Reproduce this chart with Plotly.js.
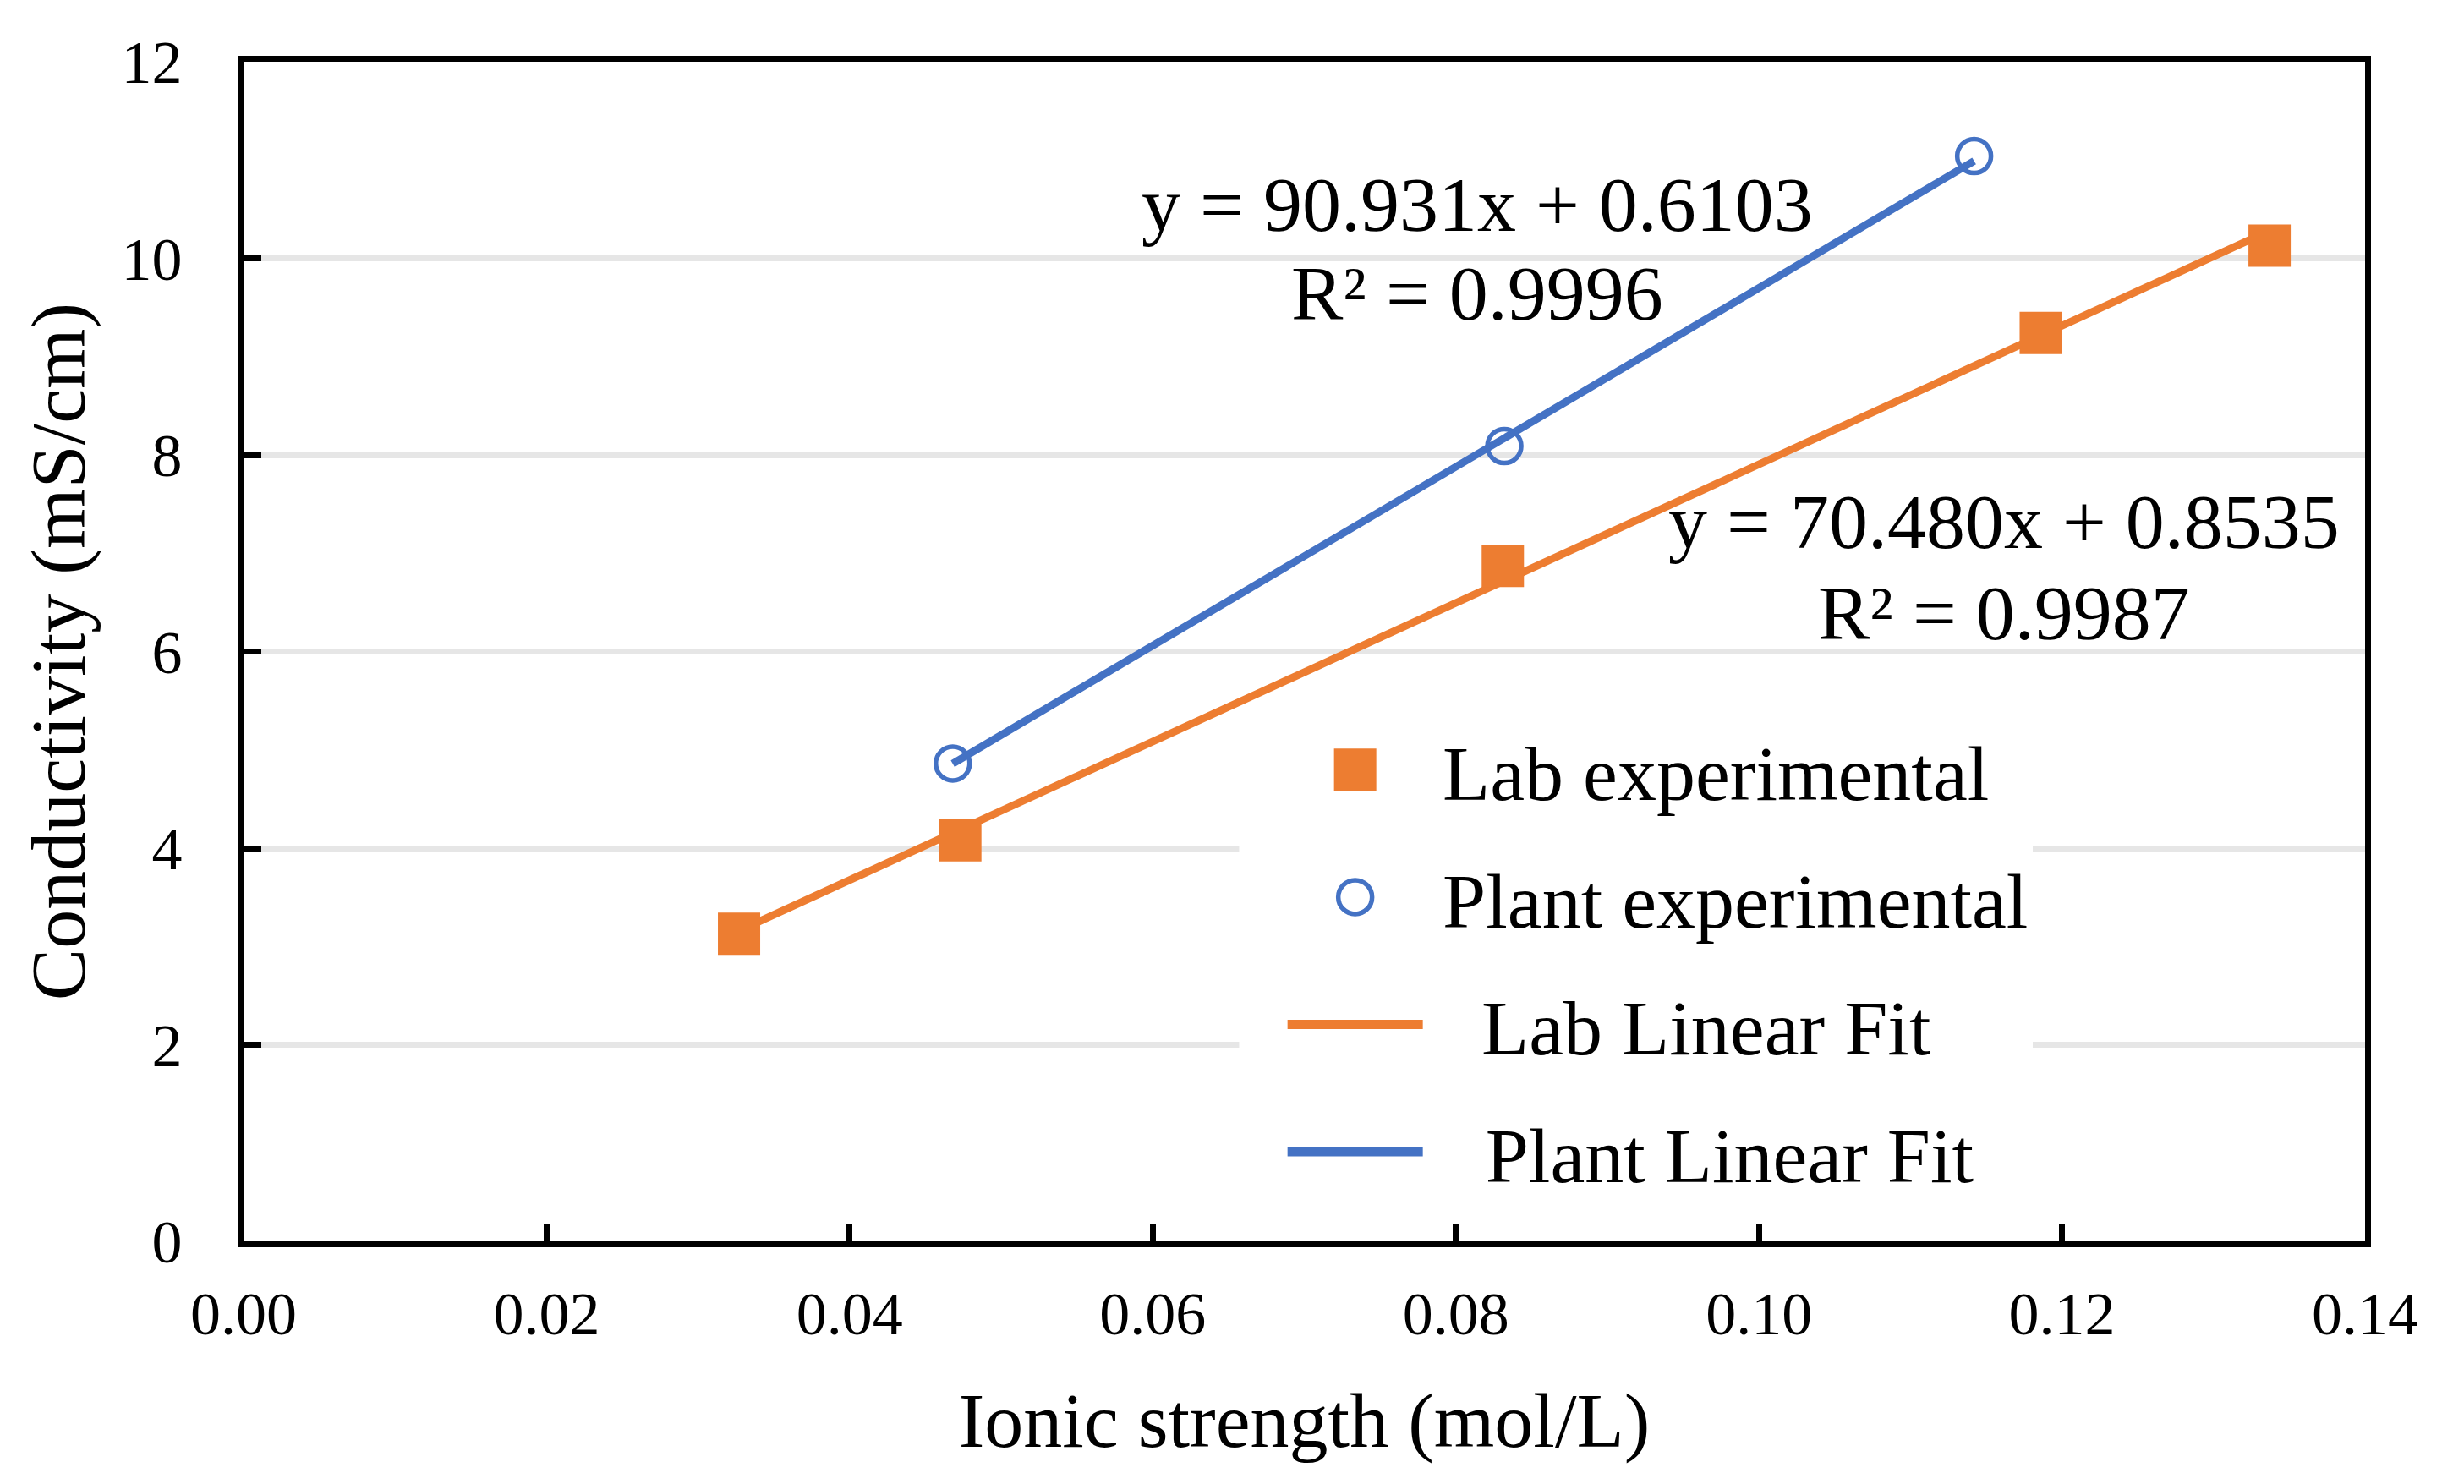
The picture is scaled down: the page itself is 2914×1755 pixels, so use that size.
<!DOCTYPE html>
<html>
<head>
<meta charset="utf-8">
<script src="https://cdn.plot.ly/plotly-3.0.1.min.js"></script>
<style>
  html, body { margin: 0; padding: 0; background: #fff; }
  #chart { width: 2914px; height: 1755px; }
</style>
</head>
<body>
<div id="chart"></div>
<script>
const labX = [0.0327, 0.0473, 0.0831, 0.1186, 0.1337];
const labY = [3.13, 4.08, 6.87, 9.24, 10.13];
const plantX = [0.0468, 0.0832, 0.1142];
const plantY = [4.86, 8.09, 11.04];

// Ends of the two fitted lines
const labFitX = [0.0327, 0.1337];
const labFitY = [3.16, 10.28];
const plantFitX = [0.0468, 0.1142];
const plantFitY = [4.86, 10.99];

// Fit equations shown on the chart
const plantEquation = ['y = 90.931x + 0.6103', 'R\u00b2 = 0.9996'];
const labEquation = ['y = 70.480x + 0.8535', 'R\u00b2 = 0.9987'];

const orange = '#ED7D31';
const blue = '#4472C4';
const font = 'Liberation Serif, Times New Roman, serif';

const labFit = {
  x: labFitX,
  y: labFitY,
  mode: 'lines',
  name: '\u00a0\u00a0\u2009Lab Linear Fit',
  line: { color: orange, width: 9 },
  legendrank: 3,
  legendgroup: 'c',
};

const plantFit = {
  x: plantFitX,
  y: plantFitY,
  mode: 'lines',
  name: '\u00a0\u00a0\u00a0Plant Linear Fit',
  line: { color: blue, width: 9 },
  legendrank: 4,
  legendgroup: 'd',
};

const labPoints = {
  x: labX,
  y: labY,
  mode: 'markers',
  name: '\u2009Lab experimental',
  marker: { symbol: 'square', size: 50, color: orange },
  legendrank: 1,
  legendgroup: 'a',
};

const plantPoints = {
  x: plantX,
  y: plantY,
  mode: 'markers',
  name: '\u2009Plant experimental',
  marker: { symbol: 'circle-open', size: 40, color: blue, line: { width: 5.5, color: blue } },
  legendrank: 2,
  legendgroup: 'b',
};

const data = [labFit, plantFit, labPoints, plantPoints];

const axisCommon = {
  showline: true,
  mirror: true,
  linecolor: '#000',
  linewidth: 7,
  ticks: 'inside',
  tickcolor: '#000',
  tickwidth: 7,
  ticklen: 21,
  zeroline: false,
  tickfont: { family: font, size: 72, color: '#000' },
};

const textFont = { family: font, size: 92, color: '#000' };

// One annotation per text line, so the line spacing follows the picture
function equationNote(text, x, y) {
  return { x, y, xref: 'x', yref: 'y', text, showarrow: false, font: textFont };
}

const layout = {
  width: 2914,
  height: 1755,
  margin: { l: 288, r: 117, t: 73, b: 287 },
  paper_bgcolor: '#fff',
  plot_bgcolor: '#fff',
  showlegend: true,
  xaxis: {
    ...axisCommon,
    range: [0, 0.14],
    dtick: 0.02,
    tickformat: '.2f',
    showgrid: false,
    ticklabelstandoff: 17,
    title: {
      text: 'Ionic strength (mol/L)',
      font: textFont,
      standoff: 56,
    },
  },
  yaxis: {
    ...axisCommon,
    range: [0, 12],
    dtick: 2,
    showgrid: true,
    gridcolor: '#E6E6E6',
    gridwidth: 7,
    ticklabelstandoff: 51,
    title: {
      text: 'Conductivity (mS/cm)',
      font: textFont,
      standoff: 15,
    },
  },
  legend: {
    x: 0.4901,
    y: 0.4473,
    xanchor: 'left',
    yanchor: 'top',
    bgcolor: '#fff',
    borderwidth: 0,
    itemwidth: 160,
    tracegroupgap: 28,
    font: textFont,
  },
  // white strip that extends the legend's background to the left
  shapes: [
    {
      type: 'rect',
      xref: 'x',
      yref: 'y',
      x0: 0.0657,
      x1: 0.0690,
      y0: 0.08,
      y1: 5.3,
      fillcolor: '#fff',
      line: { width: 0 },
      layer: 'between',
    },
  ],
  annotations: [
    equationNote(plantEquation[0], 0.0814, 10.55),
    equationNote(plantEquation[1], 0.0814, 9.64),
    equationNote(labEquation[0], 0.1162, 7.32),
    equationNote(labEquation[1], 0.1162, 6.39),
  ],
};

const config = { staticPlot: true, responsive: false };

// Legend symbols are capped in size by Plotly, so enlarge them to match the plot
function enlargeLegendSymbols(gd) {
  gd.querySelectorAll('.legend .traces').forEach((item) => {
    const trace = item.__data__[0].trace;
    item.querySelectorAll('.scatterpts').forEach((pt) => {
      const box = pt.getBBox();
      if (!box.width) return;
      const k = trace.marker.size / box.width;
      const base = pt.getAttribute('transform') || '';
      pt.setAttribute('transform', `${base} scale(${k})`);
      if (trace.marker.symbol.endsWith('open')) {
        pt.style.strokeWidth = `${trace.marker.line.width / k}px`;
      }
    });
    item.querySelectorAll('.legendlines path, path.js-line').forEach((ln) => {
      ln.style.setProperty('stroke-width', '11px', 'important');
    });
  });
}

Plotly.newPlot('chart', data, layout, config).then(enlargeLegendSymbols);
</script>
</body>
</html>
